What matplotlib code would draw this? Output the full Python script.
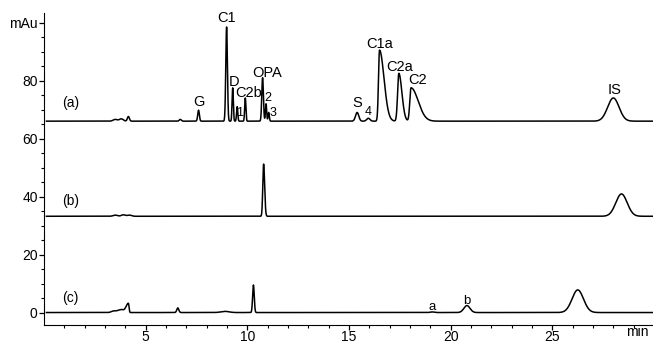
import numpy as np
import matplotlib
matplotlib.use('Agg')
import matplotlib.pyplot as plt

plt.rcParams['font.family'] = ['Liberation Sans', 'DejaVu Sans']

# 크로마토그램 피크 표 (머무름시간 min, 높이 mAu, 왼쪽폭, 오른쪽폭)
# (a) 시료
a_base = 66.0
a_rt = [3.5, 3.8, 4.15, 6.7, 7.6, 8.98, 9.28, 9.5, 9.9, 10.75, 10.92, 11.05, 15.4, 15.95, 16.5, 17.45, 18.05, 28.0]
a_h = [0.6, 0.8, 1.6, 0.6, 3.8, 32.5, 11.5, 5.0, 8.0, 15.0, 6.0, 3.0, 3.0, 1.0, 24.5, 16.5, 11.5, 8.0]
a_wl = [0.1, 0.1, 0.05, 0.05, 0.04, 0.04, 0.03, 0.03, 0.03, 0.04, 0.03, 0.03, 0.08, 0.08, 0.05, 0.06, 0.06, 0.28]
a_wr = [0.1, 0.1, 0.05, 0.05, 0.04, 0.04, 0.03, 0.03, 0.03, 0.04, 0.03, 0.03, 0.08, 0.08, 0.22, 0.15, 0.35, 0.28]

a_lbl = ['G', 'C1', 'D', '1', 'C2b', 'OPA', '2', '3', 'S', '4', 'C1a', 'C2a', 'C2', 'IS']
a_lbl_x = [7.6, 9.0, 9.35, 9.6, 10.05, 10.95, 11.0, 11.25, 15.4, 15.95, 16.5, 17.5, 18.35, 28.05]
a_lbl_y = [70.2, 99.2, 77.2, 66.8, 73.2, 80.2, 72.0, 66.8, 69.8, 67.0, 90.2, 82.2, 77.7, 74.2]

# (b) 표준
b_base = 33.2
b_rt = [3.5, 3.9, 4.2, 10.8, 28.4]
b_h = [0.4, 0.5, 0.4, 18.0, 7.7]
b_wl = [0.1, 0.1, 0.1, 0.04, 0.28]
b_wr = [0.1, 0.1, 0.1, 0.05, 0.28]

# (c) 공시료
c_base = 0.0
c_rt = [3.4, 3.8, 4.15, 6.58, 8.9, 10.3, 19.1, 20.8, 26.25]
c_h = [0.4, 1.0, 3.2, 1.6, 0.4, 9.5, 0.2, 2.4, 7.8]
c_wl = [0.1, 0.2, 0.12, 0.05, 0.2, 0.04, 0.1, 0.15, 0.28]
c_wr = [0.1, 0.1, 0.03, 0.05, 0.2, 0.04, 0.1, 0.15, 0.28]

trace_lbl = ['(a)', '(b)', '(c)']
trace_lbl_y = [70.0, 36.0, 2.5]

t = np.linspace(0, 30, 6000)


def trace(base, rts, hs, wls, wrs):
    y = np.full_like(t, base)
    for rt, h, wl, wr in zip(rts, hs, wls, wrs):
        s = np.where(t < rt, wl, wr)
        y += h * np.exp(-0.5 * ((t - rt) / s) ** 2)
    return y


fig = plt.figure(figsize=(6.53, 3.43), dpi=100)
ax = fig.add_axes([44 / 653, 18 / 343, 609 / 653, 312 / 343])

start = 0.12
m = t > start
ax.plot(t[m], trace(a_base, a_rt, a_h, a_wl, a_wr)[m], color='black', lw=1.1)
ax.plot(t[m], trace(b_base, b_rt, b_h, b_wl, b_wr)[m], color='black', lw=1.1)
ax.plot(t[m], trace(c_base, c_rt, c_h, c_wl, c_wr)[m], color='black', lw=1.1)

for s, x, y in zip(a_lbl, a_lbl_x, a_lbl_y):
    fs = 9 if s in ['1', '2', '3', '4'] else 10.5
    ax.text(x, y, s, ha='center', va='bottom', fontsize=fs)

for s, y in zip(trace_lbl, trace_lbl_y):
    ax.text(1.3, y, s, ha='center', va='bottom', fontsize=10)

ax.text(19.1, -0.3, 'a', ha='center', va='bottom', fontsize=9.5)
ax.text(20.8, 2.0, 'b', ha='center', va='bottom', fontsize=9.5)

ax.set_xlim(0, 29.95)
ax.set_ylim(-4.3, 103.3)
ax.set_xticks([5, 10, 15, 20, 25])
ax.set_xticks(np.arange(1, 30), minor=True)
ax.set_yticks([0, 20, 40, 60, 80, 100])
ax.set_yticklabels(['0', '20', '40', '60', '80', 'mAu'])
ax.set_yticks(np.arange(0, 101, 5), minor=True)
ax.tick_params(labelsize=10, length=3.5, width=0.9, pad=1)
ax.tick_params(axis='x', pad=0)
ax.tick_params(which='minor', length=2.5, width=0.8)
ax.text(29.2, -4.3, 'min', ha='center', va='top', fontsize=10,
        transform=ax.transData)
ax.spines['top'].set_visible(False)
ax.spines['right'].set_visible(False)

plt.savefig('out.png', dpi=100)
